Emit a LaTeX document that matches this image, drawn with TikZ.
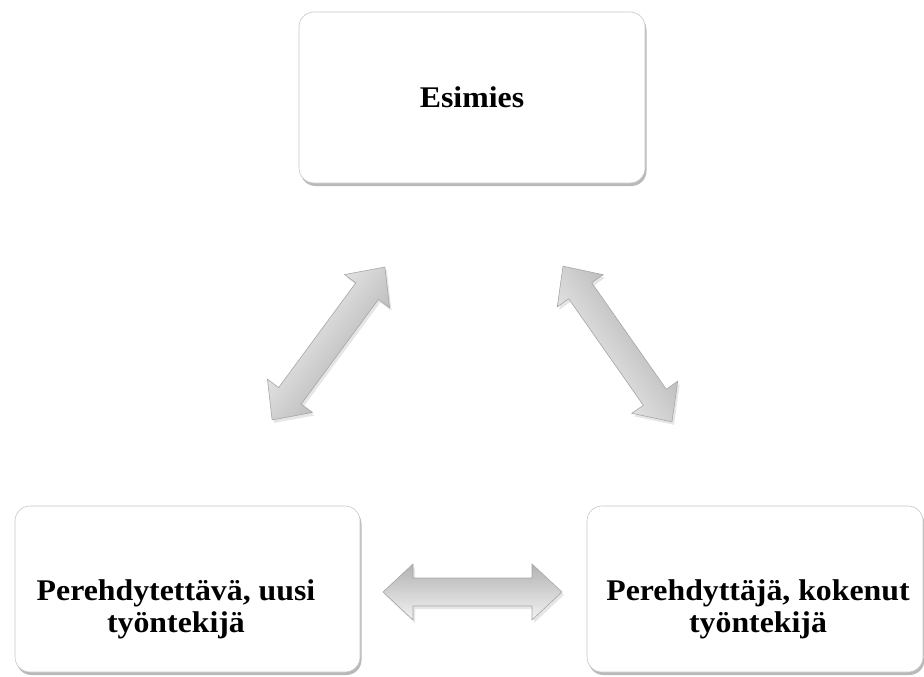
\documentclass[tikz,border=0pt]{standalone}
\usepackage{fontspec}
\setmainfont{Liberation Serif}[FakeStretch=1.06]
\usetikzlibrary{shadows}
\newcommand\dblarr[5]{%
 \begin{scope}[shift={(#1)}, rotate=#2]
  \path[arr, top color=#4, bottom color=#5, shading angle=#2]
   (-#3,0) -- ({-#3+30},28) -- ({-#3+30},14) -- ({#3-30},14) -- ({#3-30},28) -- (#3,0)
   -- ({#3-30},-28) -- ({#3-30},-14) -- ({-#3+30},-14) -- ({-#3+30},-28) -- cycle;
 \end{scope}}
\begin{document}
\begin{tikzpicture}[x=1pt,y=-1pt,
  box/.style={draw=black!22, line width=0.6pt, fill=white, rounded corners=15pt,
    drop shadow={shadow xshift=1.5pt, shadow yshift=-3pt, opacity=0.5, fill=black!55}},
  lbl/.style={font=\fontsize{30}{32}\selectfont\bfseries, align=center, inner sep=0pt},
  arr/.style={draw=black!35, line width=0.6pt,
    drop shadow={shadow xshift=2pt, shadow yshift=-3pt, opacity=0.2, fill=black!50}}]
\useasboundingbox (0,0) rectangle (924,677);
\node[box, minimum width=346pt, minimum height=171pt] (top) at (472,97.5) {};
\node[lbl, anchor=base] (toplbl) at (472,107) {Esimies};
\node[box, minimum width=345pt, minimum height=166pt] (left) at (187.5,589) {};
\node[lbl] (leftlbl) at (176,609) {Perehdytettävä, uusi\\työntekijä};
\node[box, minimum width=336pt, minimum height=166pt] (right) at (755,589) {};
\node[lbl] (rightlbl) at (758,609) {Perehdyttäjä, kokenut\\työntekijä};
\dblarr{328.5,343.5}{53.6}{95}{black!2}{black!35}
\dblarr{617.5,344}{-55}{95}{black!35}{black!2}
\dblarr{472.5,592}{0}{89.5}{black!30}{black!5}
\end{tikzpicture}
\end{document}
